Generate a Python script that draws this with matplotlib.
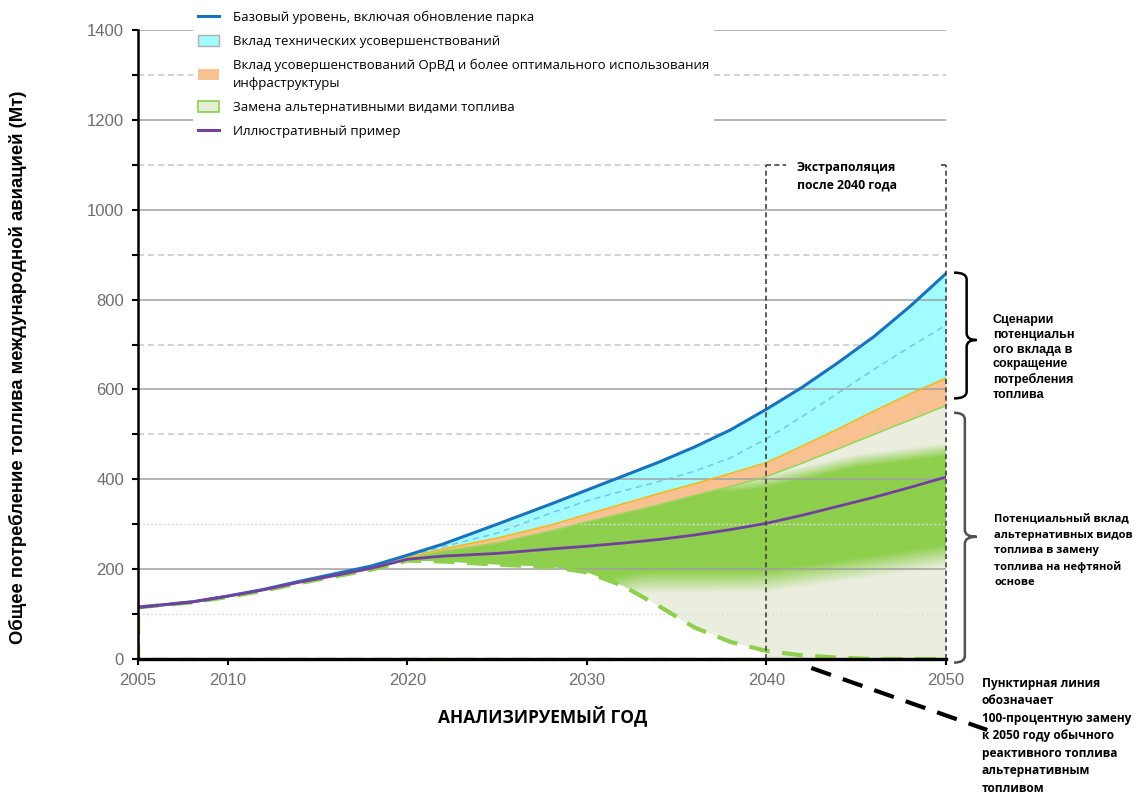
import numpy as np
import matplotlib
matplotlib.use("Agg")
import matplotlib.pyplot as plt
from matplotlib.path import Path
from matplotlib.patches import PathPatch, Patch, Polygon
from matplotlib.lines import Line2D

plt.rcParams['font.family'] = ['Liberation Sans', 'DejaVu Sans']
CAL = ['Open Sans', 'DejaVu Sans']
ARL = ['Liberation Sans', 'DejaVu Sans']

# --- данные (Мт) ---
years = [2005, 2008, 2010, 2012, 2014, 2016, 2018, 2020, 2022, 2025, 2028,
         2030, 2032, 2034, 2036, 2038, 2040, 2042, 2044, 2046, 2048, 2050]
base = [115, 127, 140, 155, 173, 190, 207, 231, 256, 300, 345,
        376, 407, 438, 472, 510, 556, 605, 660, 718, 785, 858]
tech_line = [115, 127, 140, 155, 172, 189, 205, 228, 250, 280, 325,
             352, 374, 395, 418, 448, 490, 540, 592, 645, 695, 743]
atm_top = [115, 127, 140, 154, 172, 188, 204, 226, 245, 269, 298,
           322, 345, 368, 390, 413, 437, 474, 512, 552, 590, 625]
alt_top = [115, 127, 140, 154, 171, 187, 203, 224, 240, 258, 285,
           305, 324, 343, 364, 384, 406, 436, 468, 500, 532, 564]
example = [115, 127, 140, 154, 171, 186, 202, 222, 229, 235, 245,
           251, 258, 266, 276, 288, 302, 320, 340, 360, 382, 405]
full_alt = [115, 126, 138, 152, 169, 184, 199, 219, 217, 210, 205,
            193, 163, 118, 70, 38, 18, 8, 3, 0, 0, 0]

# границы зелёной полосы (затенение)
band_yrs = [2005, 2028, 2033, 2038, 2040, 2045, 2050]
band_hi = [2000, 1000, 430, 400, 410, 455, 480]
band_lo = [-100, 100, 145, 146, 147, 175, 205]

xticks = [2005, 2010, 2020, 2030, 2040, 2050]
yticks = [0, 200, 400, 600, 800, 1000, 1200, 1400]

legend_labels = ['Базовый уровень, включая обновление парка',
                 'Вклад технических усовершенствований',
                 'Вклад усовершенствований ОрВД и более оптимального использования\nинфраструктуры',
                 'Замена альтернативными видами топлива',
                 'Иллюстративный пример']

C_BLUE = '#1a72bb'
C_CYAN = '#a0fcff'
C_ORANGE = '#f8c191'
C_GREEN = '#8ecf4d'
C_BEIGE = '#ebeedf'
C_PURPLE = '#7440a0'

fig = plt.figure(figsize=(11.38, 7.95), dpi=100)
ax = fig.add_axes([138/1138, 1-659/795, (946-138)/1138, (659-30)/795])

yr = np.array(years, float)

# сетка
for v in [200, 400, 600, 800, 1000, 1200, 1400]:
    ax.axhline(v, color='#a0a0a0', lw=1.1, zorder=3)
for v in [500, 700, 900, 1300]:
    ax.axhline(v, color='#c8c8c8', lw=1.1, ls=(0, (4, 2.5)), zorder=0.5)
ax.plot([2005, 2040], [1100, 1100], color='#c8c8c8', lw=1.1, ls=(0, (4, 2.5)), zorder=0.5)
for v in [100, 300]:
    ax.axhline(v, color='#dcdcdc', lw=1.0, ls=(0, (1.5, 1.5)), zorder=3)

# заливки
ax.fill_between(yr, atm_top, base, color=C_CYAN, lw=0, zorder=1)
ax.fill_between(yr, alt_top, atm_top, color=C_ORANGE, lw=0, zorder=1)

# область альтернативного топлива: до 2040 снизу пунктир, дальше до нуля
i40 = years.index(2040)
verts = list(zip(years, alt_top)) + [(2050, 0), (2040, 0)] + \
    list(zip(years[:i40+1], full_alt[:i40+1]))[::-1]
clip = Polygon(verts, closed=True, facecolor='none', edgecolor='none')
ax.add_patch(clip)

gx = np.linspace(2005, 2050, 900)
gy = np.linspace(0, 900, 900)
GX, GY = np.meshgrid(gx, gy)
hi = np.interp(gx, band_yrs, band_hi)
lo = np.interp(gx, band_yrs, band_lo)
a = np.clip((hi - GY) / 30.0, 0, 1) * np.clip((GY - lo) / 50.0, 0, 1)
c1 = np.array(matplotlib.colors.to_rgb(C_BEIGE))
c2 = np.array(matplotlib.colors.to_rgb(C_GREEN))
img = c1 * (1 - a[..., None]) + c2 * a[..., None]
im = ax.imshow(img, extent=[2005, 2050, 0, 900], origin='lower',
               aspect='auto', zorder=1, interpolation='bilinear')
im.set_clip_path(clip)

# линии
ax.plot(yr, alt_top, color='#9dd460', lw=1.2, zorder=4)
ax.plot(yr, atm_top, color='#f5b81c', lw=1.2, zorder=4)
ax.plot(yr, tech_line, color='#7cc3ea', lw=1.1, ls=(0, (4, 3)), zorder=4)
ax.plot(yr, base, color=C_BLUE, lw=2.2, zorder=5)
ax.plot(yr, example, color=C_PURPLE, lw=2.0, zorder=5)
ax.plot(yr, full_alt, color=C_GREEN, lw=3, ls=(0, (5, 3)), zorder=4)
ax.plot([2050, 2005, 2005], [0, 0, 115], color=C_GREEN, lw=2.5, ls=(0, (5, 3)), zorder=4)

# прямоугольник экстраполяции
box_kw = dict(color='#404040', lw=1.2, ls=(0, (3, 2)), zorder=6, clip_on=False)
ax.plot([2040, 2040], [0, 1100], **box_kw)
ax.plot([2050, 2050], [0, 1100], **box_kw)
ax.plot([2040, 2050], [0, 0], **box_kw)
ax.plot([2040, 2041.1], [1100, 1100], **box_kw)
ax.plot([2049.7, 2050], [1100, 1100], **box_kw)
ax.text(2041.7, 1075, 'Экстраполяция\nпосле 2040 года', family=CAL, fontsize=8.8,
        fontweight='bold', va='center', ha='left', linespacing=1.4)

ax.set_xlim(2005, 2050)
ax.set_ylim(0, 1400)
ax.set_xticks(xticks)
ax.set_yticks(yticks)
ax.set_yticks(range(100, 1400, 200), minor=True)
ax.tick_params(axis='both', which='both', direction='out', length=4, width=1.5,
               colors='black', labelcolor='#6e6e6e', labelsize=12)
ax.tick_params(axis='y', pad=6)
ax.tick_params(axis='x', pad=6)
for s in ['top', 'right']:
    ax.spines[s].set_visible(False)
ax.spines['left'].set_linewidth(1.8)
ax.spines['bottom'].set_linewidth(2.4)
ax.spines['left'].set_zorder(7)
ax.spines['bottom'].set_zorder(7)

fig.text(18/1138, 1-367/795, 'Общее потребление топлива международной авиацией (Мт)',
         rotation=90, ha='center', va='center', family=ARL, fontsize=13.3,
         fontweight='bold')
fig.text(543/1138, 1-716/795, 'АНАЛИЗИРУЕМЫЙ ГОД', ha='center', va='center',
         family=CAL, fontsize=12.5, fontweight='bold')


def brace(x0, xm, xt, top, bot, tip, r, color):
    # фигурная скобка "}" в координатах данных
    c = [Path.MOVETO, Path.CURVE3, Path.CURVE3, Path.LINETO, Path.CURVE3, Path.CURVE3,
         Path.MOVETO, Path.CURVE3, Path.CURVE3, Path.LINETO, Path.CURVE3, Path.CURVE3]
    v = [(x0, top), (xm, top), (xm, top - r), (xm, tip + r), (xm, tip), (xt, tip),
         (xt, tip), (xm, tip), (xm, tip - r), (xm, bot + r), (xm, bot), (x0, bot)]
    ax.add_patch(PathPatch(Path(v, c), facecolor='none', edgecolor=color, lw=1.8,
                           clip_on=False, zorder=6))


brace(2050.45, 2051.15, 2051.7, 860, 580, 710, 15, 'black')
brace(2050.45, 2051.05, 2051.7, 548, -8, 272, 15, '#505050')

ax.text(2052.6, 671, 'Сценарии\nпотенциальн\nого вклада в\nсокращение\nпотребления\nтоплива',
        family=ARL, fontsize=9, fontweight='bold', va='center', ha='left',
        linespacing=1.3, clip_on=False)
ax.text(2052.7, 240, 'Потенциальный вклад\nальтернативных видов\nтоплива в замену\nтоплива на нефтяной\nоснове',
        family=CAL, fontsize=8.0, fontweight='bold', va='center', ha='left',
        linespacing=1.55, clip_on=False)
ax.text(2052.0, -171, 'Пунктирная линия\nобозначает\n100-процентную замену\nк 2050 году обычного\nреактивного топлива\nальтернативным\nтопливом',
        family=CAL, fontsize=8.6, fontweight='bold', va='center', ha='left',
        linespacing=1.45, clip_on=False)
ax.plot([2042.5, 2052.3], [-20, -158], color='black', lw=3, ls=(0, (5, 3)),
        clip_on=False, zorder=6)

handles = [Line2D([], [], color=C_BLUE, lw=2.2),
           Patch(facecolor=C_CYAN, edgecolor='#b0b0b0', lw=1),
           Patch(facecolor=C_ORANGE, edgecolor='none'),
           Patch(facecolor='#e6efd6', edgecolor=C_GREEN, lw=1.2, hatch='/'),
           Line2D([], [], color=C_PURPLE, lw=2.2)]
leg = fig.legend(handles, legend_labels, loc='upper left',
                 bbox_to_anchor=(193/1138, 1-5/795), frameon=True,
                 prop={'family': CAL, 'size': 9.5}, handlelength=1.6,
                 handleheight=0.9, handletextpad=1.0, labelspacing=0.85,
                 borderpad=0.4, borderaxespad=0)
for t in leg.get_texts():
    t.set_linespacing(1.45)
leg.get_frame().set_facecolor('white')
leg.get_frame().set_edgecolor('none')
leg.get_frame().set_alpha(1)
leg.set_zorder(10)

fig.savefig('out.png', dpi=100)
